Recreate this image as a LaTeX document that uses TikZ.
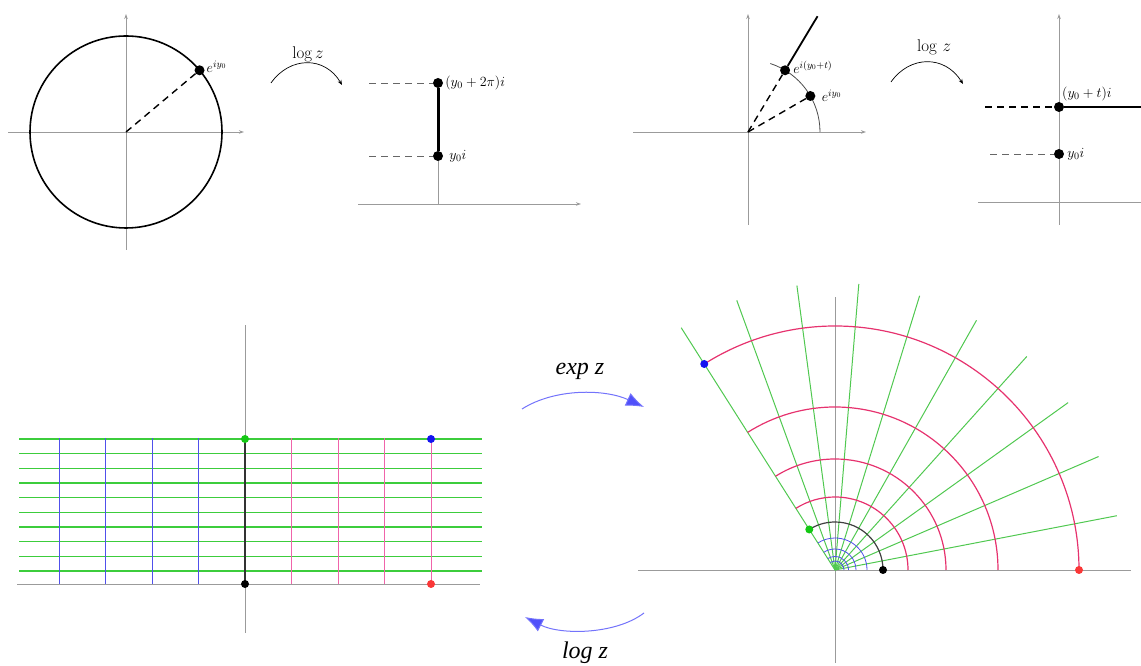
\RequirePackage{fix-cm}
\documentclass[tikz,border=0pt]{standalone}
\usepackage{fontspec}
\usepackage{tikz}
\usetikzlibrary{arrows.meta, positioning}
\newfontfamily\mapfont{Liberation Serif}

\definecolor{axisgray}{RGB}{155,155,155}
\definecolor{gridgreen}{RGB}{60,205,60}
\definecolor{raygreen}{RGB}{80,200,80}
\definecolor{gridblue}{RGB}{80,80,235}
\definecolor{gridpink}{RGB}{240,100,170}
\definecolor{arcred}{RGB}{230,50,110}
\definecolor{maparrow}{RGB}{80,80,250}
\definecolor{dotred}{RGB}{250,55,55}
\definecolor{dotgreen}{RGB}{20,200,20}
\definecolor{dotblue}{RGB}{20,20,240}

\begin{document}
\begin{tikzpicture}[
    x=1pt, y=1pt,
    axis/.style={draw=axisgray, line width=0.9pt},
    axisarrow/.style={axis, -{Stealth[length=5pt,width=3.5pt]}},
    bigdot/.style={circle, fill=black, inner sep=0pt, minimum size=10pt},
    griddot/.style={circle, inner sep=0pt, minimum size=8pt},
    guide/.style={draw=black!60, line width=0.8pt, dash pattern=on 7pt off 5pt},
    raydash/.style={line width=1.4pt, dash pattern=on 7pt off 5pt},
    note/.style={font=\fontsize{14}{16}\selectfont, inner sep=1pt},
    lognote/.style={font=\fontsize{17}{20}\selectfont},
    smallmap/.style={-{Stealth[length=5pt,width=4pt]}, line width=0.7pt},
    bigmap/.style={draw=maparrow!80, line width=1pt, -{Latex[length=18pt,width=14pt, fill=maparrow]}},
    maplabel/.style={font=\mapfont\itshape\fontsize{24}{28}\selectfont},
]
\useasboundingbox (0,0) rectangle (1141,666);

%% Kreis (oben links)
\begin{scope}[shift={(126,534)}]
  \coordinate (oA) at (0,0);
  \draw[axisarrow] (-118,0) -- (118,0);
  \draw[axisarrow] (0,-118) -- (0,118);
  \draw[line width=1.6pt] (oA) circle[radius=96];
  \node[bigdot] (pA) at (40:96) {};
  \draw[raydash] (oA) -- (pA);
  \node[note, anchor=base west] (lA) at ([xshift=6pt,yshift=-2pt]pA.center) {$e^{iy_0}$};
\end{scope}

%% log z (oben links)
\coordinate (sA) at (271,583);
\coordinate (tA) at (342,581);
\draw[smallmap] (sA) .. controls (290,610) and (325,610) .. (tA);
\node[lognote] (logA) at (308,612) {$\log z$};

%% Strecke auf der imaginaeren Achse
\begin{scope}[shift={(438,462)}]
  \coordinate (oB) at (0,0);
  \draw[axisarrow] (-80,0) -- (143,0);
  \node[bigdot] (qB) at (0,48) {};
  \node[bigdot] (pB) at (0,121) {};
  \coordinate (gq) at (-69,48);
  \coordinate (gp) at (-69,121);
  \draw[axis] (oB) -- (qB);
  \draw[line width=3pt] (qB) -- (pB);
  \draw[guide] (gq) -- (qB);
  \draw[guide] (gp) -- (pB);
  \node[note, right=1pt of pB] (lpB) {$(y_0+2\pi)i$};
  \node[note, right=5pt of qB] (lqB) {$y_0 i$};
\end{scope}

%% Sektor (oben rechts)
\begin{scope}[shift={(748,534)}]
  \coordinate (oC) at (0,0);
  \draw[axisarrow] (-115,0) -- (118,0);
  \draw[axisarrow] (0,-93) -- (0,118);
  \draw[black!70, line width=0.8pt] (72,0) arc[start angle=0, end angle=72, radius=72];
  \node[bigdot] (pC) at (30:72) {};
  \node[bigdot] (qC) at (59:72) {};
  \coordinate (rC) at (59:135);
  \draw[line width=1.8pt] (qC) -- (rC);
  \draw[raydash] (oC) -- (pC);
  \draw[raydash] (oC) -- (qC);
  \node[note, anchor=base west] (lqC) at ([xshift=7pt,yshift=-3pt]qC.center) {$e^{i(y_0+t)}$};
  \node[note, right=5pt of pC] (lpC) {$e^{iy_0}$};
\end{scope}

%% log z (oben rechts)
\coordinate (sC) at (891,584);
\coordinate (tC) at (963,582);
\draw[smallmap] (sC) .. controls (910,611) and (945,611) .. (tC);
\node[lognote] (logC) at (934,619) {$\log\,z$};

%% Halbgerade (oben rechts)
\begin{scope}[shift={(1059,464)}]
  \coordinate (oD) at (0,0);
  \draw[axisarrow] (0,-23) -- (0,188);
  \draw[axis] (-81,0) -- (82,0);
  \node[bigdot] (pD) at (0,95) {};
  \node[bigdot] (qD) at (0,48) {};
  \coordinate (gpD) at (-74,95);
  \coordinate (gqD) at (-69,48);
  \coordinate (rD) at (82,95);
  \draw[line width=1.8pt] (pD) -- (rD);
  \draw[raydash] (gpD) -- (pD);
  \draw[guide] (gqD) -- (qD);
  \node[note, anchor=south west] (lpD) at ([xshift=2pt]pD.north) {$(y_0+t)i$};
  \node[note, right=2pt of qD] (lqD) {$y_0 i$};
\end{scope}

%% Gitter im Streifen (unten links)
\begin{scope}[shift={(245,82)}]
  \draw[axis] (0,-49) -- (0,259);
  \draw[axis] (-228,0) -- (235,0);
  \foreach \k in {0,...,9}
    \draw[gridgreen, line width=1.6pt] (-226,{13+14.67*\k}) -- (237,{13+14.67*\k});
  \foreach \j in {-4,...,-1}
    \draw[gridblue, line width=1pt] ({46.5*\j},0) -- ({46.5*\j},146);
  \foreach \j in {1,...,4}
    \draw[gridpink, line width=1pt] ({46.5*\j},0) -- ({46.5*\j},146);
  \draw[black!80, line width=1.3pt] (0,0) -- (0,146);
  \node[griddot, fill=dotgreen] (gE) at (0,145) {};
  \node[griddot, fill=dotblue] (bE) at (186,145) {};
  \node[griddot, fill=black] (kE) at (0,0) {};
  \node[griddot, fill=dotred] (rE) at (186,0) {};
\end{scope}

%% exp z / log z
\coordinate (sE) at (522,257);
\coordinate (tE) at (644,259);
\draw[bigmap] (sE) .. controls (555,278) and (605,277) .. (tE);
\node[maplabel] (expL) at (580,295) {exp z};
\coordinate (sL) at (644,53);
\coordinate (tL) at (525,49);
\draw[bigmap] (sL) .. controls (615,31) and (560,31) .. (tL);
\node[maplabel] (logL) at (585,13) {log z};

%% Polarnetz (unten rechts)
\begin{scope}[shift={(835,96)}]
  \coordinate (oF) at (0,0);
  \draw[axis] (-197,0) -- (296,0);
  \draw[axis] (0,-93) -- (0,273);
  \foreach \k in {0,...,9}
    \draw[raygreen, line width=1pt] (oF) -- ({10.9+12.39*\k}:287);
  \foreach \r in {9,13.5,21,32}
    \draw[gridblue, line width=0.8pt] (\r,0) arc[start angle=0, end angle=122.4, radius=\r];
  \foreach \r in {73,111,163,244}
    \draw[arcred, line width=1.2pt] (\r,0) arc[start angle=0, end angle=122.4, radius=\r];
  \draw[black!75, line width=1.2pt] (48,0) arc[start angle=0, end angle=122.4, radius=48];
  \node[griddot, fill=dotred] (rF) at (244,0) {};
  \node[griddot, fill=black] (kF) at (48,0) {};
  \node[griddot, fill=dotgreen] (gF) at (122.4:48) {};
  \node[griddot, fill=dotblue] (bF) at (122.4:244) {};
\end{scope}

\end{tikzpicture}
\end{document}
